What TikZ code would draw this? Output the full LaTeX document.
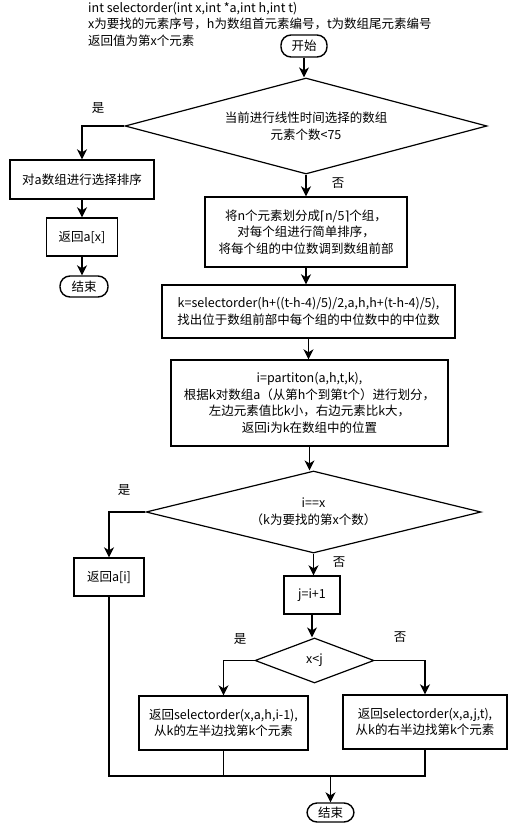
\documentclass[tikz,border=0pt]{standalone}
\usepackage{fontspec}
\setmainfont{Noto Sans CJK SC}
\newfontfamily\symf{DejaVu Sans}
\usetikzlibrary{arrows.meta,shapes.geometric}

\begin{document}
\begin{tikzpicture}[x=1pt,y=-1pt,
  font=\fontsize{12.5}{16.5}\selectfont,
  box/.style={draw,line width=1.4pt,align=center,inner sep=0pt},
  term/.style={box,rounded corners=10pt},
  dec/.style={draw,line width=1.2pt,diamond,align=center,inner sep=0pt},
  ar/.style={-{Stealth[length=10pt,width=10pt,inset=3pt]},line width=1.4pt},
  ln/.style={line width=1.4pt},
  lbl/.style={inner sep=0pt}]
  \useasboundingbox (0,0) rectangle (509,824);
  % header
  \node[anchor=west,align=left,inner sep=0pt] (sig) at (88,24)
    {int selectorder(int x,int *a,int h,int t)\\
     x为要找的元素序号，h为数组首元素编号，t为数组尾元素编号\\
     返回值为第x个元素};
  \node[term,minimum width=46pt,minimum height=22pt] (start) at (304,46) {开始};
  \node[dec,minimum width=362pt,minimum height=96pt,aspect=3.8] (small) at (306,126)
    {当前进行线性时间选择的数组\\元素个数<75};
  % short array
  \node[box,minimum width=144pt,minimum height=39pt] (sort) at (82,179.5) {对a数组进行选择排序};
  \node[box,minimum width=71pt,minimum height=38pt] (retx) at (82,237) {返回a[x]};
  \node[term,minimum width=48pt,minimum height=21pt] (endl) at (84,286.5) {结束};
  % main column
  \node[box,minimum width=202pt,minimum height=70pt] (split) at (306,232)
    {将n个元素划分成{\symf ⌈}n/5{\symf ⌉}个组，\\对每个组进行简单排序，\\将每个组的中位数调到数组前部};
  \node[box,minimum width=293pt,minimum height=53pt] (med) at (308.5,311.5)
    {k=selectorder(h+((t-h-4)/5)/2,a,h,h+(t-h-4)/5),\\找出位于数组前部中每个组的中位数中的中位数};
  \node[box,minimum width=277pt,minimum height=86pt] (part) at (309.5,403)
    {i=partiton(a,h,t,k),\\根据k对数组a（从第h个到第t个）进行划分，\\左边元素值比k小，右边元素比k大，\\返回i为k在数组中的位置};
  \node[dec,minimum width=335pt,minimum height=82pt,aspect=4] (found) at (313.5,512)
    {i==x\\（k为要找的第x个数）};
  \node[box,minimum width=70pt,minimum height=38pt] (reti) at (109,577) {返回a[i]};
  \node[box,minimum width=56pt,minimum height=38pt] (inc) at (312,595) {j=i+1};
  \node[dec,minimum width=119pt,minimum height=45pt,aspect=2.6] (side) at (314.5,660.5) {x<j};
  \node[box,minimum width=169pt,minimum height=54pt] (lefth) at (223.5,723)
    {返回selectorder(x,a,h,i-1),\\从k的左半边找第k个元素};
  \node[box,minimum width=164pt,minimum height=54pt] (righth) at (425,722)
    {返回selectorder(x,a,j,t),\\从k的右半边找第k个元素};
  \node[term,minimum width=47pt,minimum height=19pt] (endb) at (330.5,812.5) {结束};
  \coordinate (jn) at (330.5,776);
  % labels
  \node[lbl] (y1) at (98,108) {是};
  \node[lbl] (n1) at (338,183) {否};
  \node[lbl] (y2) at (124,490) {是};
  \node[lbl] (n2) at (339,562) {否};
  \node[lbl] (y3) at (240,639) {是};
  \node[lbl] (n3) at (400,637) {否};
  % connectors
  \draw[ar] (start.south) -- (start.south|-small.north);
  \draw[ar] (small.west) -| (sort.north);
  \draw[ar] (sort.south) -- (sort.south|-retx.north);
  \draw[ar] (retx.south) -- (retx.south|-endl.north);
  \draw[ar] (small.south) -- (small.south|-split.north);
  \draw[ar] (split.south) -- (split.south|-med.north);
  \draw[ar] (med.south) -- (med.south|-part.north);
  \draw[ar] (part.south) -- (part.south|-found.north);
  \draw[ar] (found.west) -| (reti.north);
  \draw[ar] (found.south) -- (found.south|-inc.north);
  \draw[ar] (inc.south) -- (inc.south|-side.north);
  \draw[ar] (side.west) -| (lefth.north);
  \draw[ar] (side.east) -| (righth.north);
  \draw[ln] (reti.south) |- (righth.south|-jn) -- (righth.south);
  \draw[ln] (lefth.south) -- (lefth.south|-jn);
  \draw[ar] (jn) -- (endb.north);
\end{tikzpicture}
\end{document}
